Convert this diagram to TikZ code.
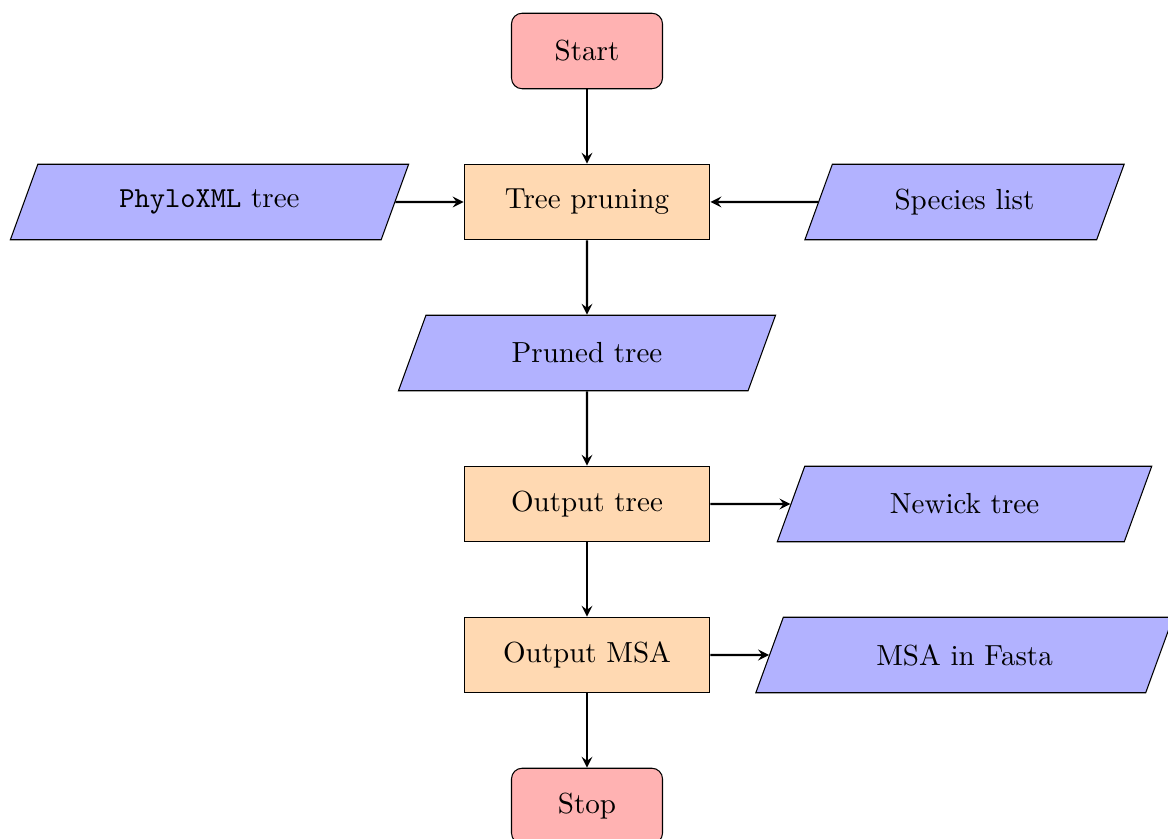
\documentclass[tikz,border=0pt,11pt]{standalone}
\usepackage{tikz}
\usepackage{xcolor}
\usetikzlibrary{shapes.geometric}

\begin{document}
\begin{tikzpicture}[node distance = 2cm,
startstop/.style = {rectangle, rounded corners, minimum width=2cm, minimum height=1cm, text centered, draw=black, fill=red!30},
process/.style = {rectangle, text width=3cm, minimum height=1cm, text centered, draw=black, fill=orange!30},
io/.style = {trapezium, trapezium left angle=70, trapezium right angle=110, minimum width=3cm, minimum height=1cm, text centered, draw=black, fill=blue!30},
arrow/.style = {thick, ->, >=stealth}]
\useasboundingbox (-7.775,0.675) rectangle (7.695,-10.437);
\node[startstop] (start) {Start};
\node[process] (prune) [below of = start] {Tree pruning};
\node[io] (xml) [left of = prune, xshift=-3cm] {\texttt{PhyloXML} tree};
\node[io] (species) [right of = prune, xshift=3cm] {Species list};
\node[io] (pruned) [below of = prune] {Pruned tree};
\node[process] (outtree) [below of = pruned] {Output tree};
\node[io] (newick) [right of = outtree, xshift=3cm] {Newick tree};
\node[process] (outmsa) [below of = outtree] {Output MSA};
\node[io] (fasta) [right of = outmsa, xshift=3cm] {MSA in Fasta};
\node[startstop] (stop) [below of = outmsa] {Stop};

\draw[arrow] (start) -- (prune);
\draw[arrow] (xml) -- (prune);
\draw[arrow] (species) -- (prune);
\draw[arrow] (prune) -- (pruned);
\draw[arrow] (pruned) -- (outtree);
\draw[arrow] (outtree) -- (newick);
\draw[arrow] (outtree) -- (outmsa);
\draw[arrow] (outmsa) -- (fasta);
\draw[arrow] (outmsa) -- (stop);
\end{tikzpicture}
\end{document}
